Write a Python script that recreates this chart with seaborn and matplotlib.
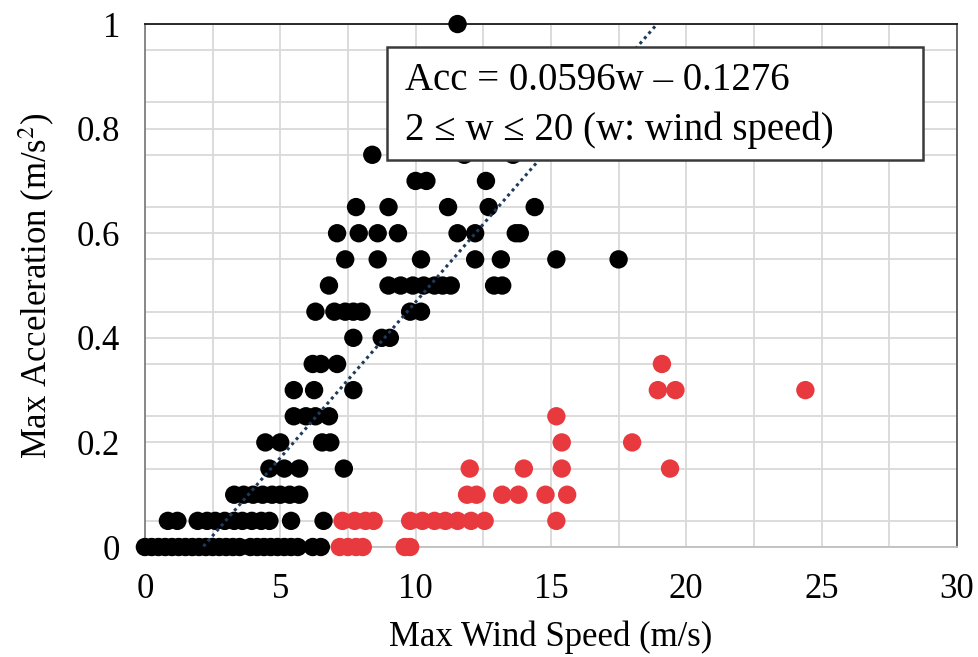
import numpy as np
import pandas as pd
import matplotlib
matplotlib.use("Agg")
import matplotlib.pyplot as plt
from matplotlib.patches import Rectangle
import seaborn as sns

# ---- data ----
black_x = {
    0.00: [0.0, 0.25, 0.5, 0.75, 1.0, 1.25, 1.5, 1.75, 2.0, 2.25, 2.5, 2.75, 3.0, 3.25, 3.5,
           3.9, 4.15, 4.4, 4.65, 4.9, 5.15, 5.4, 5.65, 6.2, 6.5],
    0.05: [0.85, 1.2, 1.95, 2.3, 2.6, 2.95, 3.3, 3.6, 3.95, 4.3, 4.6, 5.4, 6.6],
    0.10: [3.3, 3.65, 4.0, 4.35, 4.7, 5.0, 5.35, 5.7],
    0.15: [4.6, 5.15, 5.7, 7.35],
    0.20: [4.45, 5.0, 6.55, 6.85],
    0.25: [5.5, 5.95, 6.3, 6.8],
    0.30: [5.5, 6.25, 7.7],
    0.35: [6.2, 6.5, 7.1],
    0.40: [7.7, 8.75, 9.05],
    0.45: [6.3, 7.0, 7.4, 7.7, 8.0, 9.8, 10.2],
    0.50: [6.8, 9.0, 9.45, 9.9, 10.3, 10.7, 11.0, 11.3, 12.9, 13.2],
    0.55: [7.4, 8.6, 10.2, 12.2, 13.15, 15.2, 17.5],
    0.60: [7.1, 7.9, 8.6, 9.35, 11.55, 12.2, 13.7, 13.85],
    0.65: [7.8, 9.0, 11.2, 12.7, 14.4],
    0.70: [10.0, 10.4, 12.6],
    0.75: [8.4, 11.8, 13.6],
    1.00: [11.55],
}
red_x = {
    0.00: [7.2, 7.5, 7.8, 8.05, 9.6, 9.8],
    0.05: [7.3, 7.75, 8.15, 8.45, 9.8, 10.25, 10.7, 11.1, 11.55, 12.05, 12.55, 15.2],
    0.10: [11.9, 12.25, 13.2, 13.8, 14.8, 15.6],
    0.15: [12.0, 14.0, 15.4, 19.4],
    0.20: [15.4, 18.0],
    0.25: [15.2],
    0.30: [18.95, 19.6, 24.4],
    0.35: [19.1],
}
slope = 0.0596
intercept = -0.1276
fit_range = [2, 20]
x_ticks = [0, 5, 10, 15, 20, 25, 30]
y_ticks = [0, 0.2, 0.4, 0.6, 0.8, 1.0]
y_tick_labels = ["0", "0.2", "0.4", "0.6", "0.8", "1"]
box_lines = ["Acc = 0.0596w \u2013 0.1276", "2 \u2264 w \u2264 20 (w: wind speed)"]

rows = []
for grp, d in (("black", black_x), ("red", red_x)):
    for yv, xs in d.items():
        for xv in xs:
            rows.append({"w": xv, "acc": yv, "grp": grp})
df = pd.DataFrame(rows)

# ---- styling ----
sns.set_theme(style="white")
plt.rcParams["font.family"] = ["Liberation Serif", "DejaVu Serif"]
plt.rcParams["mathtext.fontset"] = "stix"
plt.rcParams["text.color"] = "black"
plt.rcParams["axes.labelcolor"] = "black"
plt.rcParams["xtick.color"] = "black"
plt.rcParams["ytick.color"] = "black"

fig = plt.figure(figsize=(9.79, 6.57), dpi=100)
ax = fig.add_axes([0.148, 0.1674, 0.8295, 0.796])

ax.set_xlim(0, 30)
ax.set_ylim(0, 1)
ax.set_xticks(x_ticks)
ax.set_xticks(np.arange(2.5, 30, 5), minor=True)
ax.set_yticks(y_ticks)
ax.set_yticklabels(y_tick_labels)
ax.set_yticks(np.arange(0.05, 1.0, 0.1), minor=True)
ax.grid(which="both", color="#d9d9d9", linewidth=1.3)
ax.set_axisbelow(True)
ax.tick_params(which="both", length=0)
ax.tick_params(axis="x", labelsize=25, pad=19, labelcolor="black")
ax.tick_params(axis="y", labelsize=25, pad=18, labelcolor="black")

for side, col in (("left", "#7f7f7f"), ("right", "#595959"), ("top", "#1a1a1a"), ("bottom", "#bfbfbf")):
    ax.spines[side].set_visible(True)
    ax.spines[side].set_color(col)
    ax.spines[side].set_linewidth(1.3)

# trend line
wl = np.array(fit_range, dtype=float)
ax.plot(wl, slope * wl + intercept, linestyle=(0, (1, 1.2)), color="#1f3b5c", linewidth=2.2, zorder=4)

sns.scatterplot(data=df, x="w", y="acc", hue="grp",
                palette={"black": "#000000", "red": "#e8393f"},
                s=175, linewidth=0, legend=False, ax=ax, zorder=3, clip_on=False)

ax.set_xlabel("Max Wind Speed (m/s)", fontsize=25, labelpad=10, color="black")
ax.set_ylabel("Max Acceleration (m/s$^{2}$)", fontsize=25, labelpad=14, color="black")

# equation box
rect = Rectangle((0.298, 0.740), 0.660, 0.216, transform=ax.transAxes,
                 facecolor="white", edgecolor="#3a3a3a", linewidth=1.8, zorder=6)
ax.add_patch(rect)
ax.text(0.320, 0.893, box_lines[0], transform=ax.transAxes, fontsize=28,
        va="center", ha="left", zorder=7, color="black")
ax.text(0.320, 0.797, box_lines[1], transform=ax.transAxes, fontsize=28,
        va="center", ha="left", zorder=7, color="black")

fig.savefig("out.png", dpi=100)
